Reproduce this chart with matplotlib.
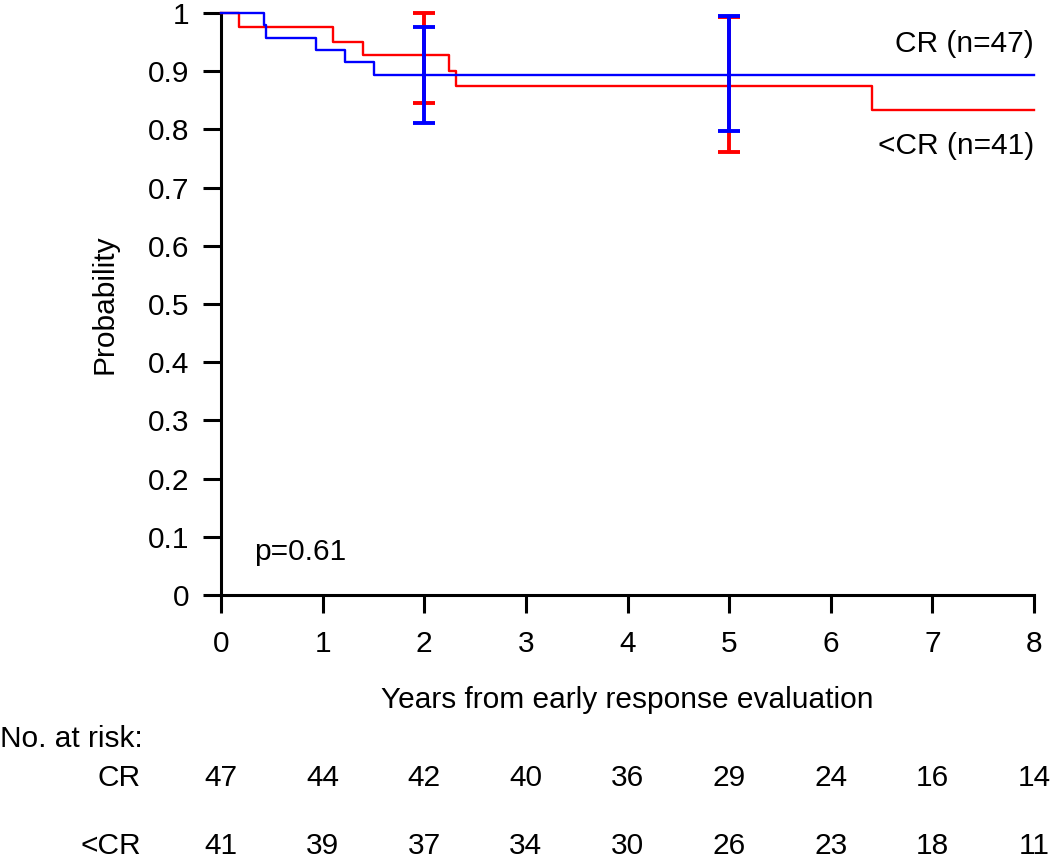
import matplotlib
matplotlib.use("Agg")
import matplotlib.pyplot as plt
from matplotlib.transforms import blended_transform_factory

plt.rcParams['font.family'] = ['Liberation Sans', 'DejaVu Sans']

# Kaplan-Meier step data
cr_times = [0, 0.42, 0.44, 0.935, 1.22, 1.51, 8]
cr_surv = [1, 0.979, 0.957, 0.936, 0.915, 0.894, 0.894]
lcr_times = [0, 0.18, 1.10, 1.40, 2.24, 2.31, 6.41, 8]
lcr_surv = [1, 0.976, 0.951, 0.927, 0.900, 0.875, 0.833, 0.833]

# confidence interval bars
ci_x = [2, 5]
cr_ci_low = [0.811, 0.798]
cr_ci_high = [0.976, 0.994]
lcr_ci_low = [0.846, 0.762]
lcr_ci_high = [1.0, 0.993]

risk_years = [0, 1, 2, 3, 4, 5, 6, 7, 8]
risk_cr = [47, 44, 42, 40, 36, 29, 24, 16, 14]
risk_lcr = [41, 39, 37, 34, 30, 26, 23, 18, 11]

yticks = [0, 0.1, 0.2, 0.3, 0.4, 0.5, 0.6, 0.7, 0.8, 0.9, 1]
ytick_labels = ['0', '0.1', '0.2', '0.3', '0.4', '0.5', '0.6', '0.7', '0.8', '0.9', '1']

W, H = 1050, 859
fig = plt.figure(figsize=(W / 100, H / 100), dpi=100)
ax = fig.add_axes([221 / W, 1 - 595 / H, (1034 - 221) / W, (595 - 13) / H])

fs = 21.5
red = '#ff0000'
blue = '#0000ff'

ax.step(lcr_times, lcr_surv, where='post', color=red, lw=1.7, clip_on=False, zorder=3)
ax.errorbar(ci_x, [(a + b) / 2 for a, b in zip(lcr_ci_low, lcr_ci_high)],
            yerr=[[(b - a) / 2 for a, b in zip(lcr_ci_low, lcr_ci_high)]] * 2,
            fmt='none', ecolor=red, elinewidth=2.8, capsize=7.8, capthick=2.8,
            clip_on=False, zorder=3)
ax.step(cr_times, cr_surv, where='post', color=blue, lw=1.7, clip_on=False, zorder=4)
ax.errorbar(ci_x, [(a + b) / 2 for a, b in zip(cr_ci_low, cr_ci_high)],
            yerr=[[(b - a) / 2 for a, b in zip(cr_ci_low, cr_ci_high)]] * 2,
            fmt='none', ecolor=blue, elinewidth=2.8, capsize=7.8, capthick=2.8,
            clip_on=False, zorder=4)

ax.set_xlim(0, 8)
ax.set_ylim(0, 1)
ax.set_xticks(risk_years)
ax.set_yticks(yticks)
ax.set_yticklabels(ytick_labels)
for s in ['top', 'right']:
    ax.spines[s].set_visible(False)
for s in ['left', 'bottom']:
    ax.spines[s].set_linewidth(2.2)
ax.tick_params(axis='both', direction='out', length=13, width=2.2, labelsize=fs)
ax.tick_params(axis='x', pad=12)
ax.tick_params(axis='y', pad=10)

ax.set_ylabel('Probability', fontsize=fs, labelpad=21)
ax.text(8, 0.946, 'CR (n=47)', ha='right', va='center', fontsize=fs)
ax.text(8, 0.771, '<CR (n=41)', ha='right', va='center', fontsize=fs)
ax.text(0.33, 0.074, 'p=0.61', ha='left', va='center', fontsize=fs)

fig.text(627 / W, 1 - 700 / H, 'Years from early response evaluation', ha='center', va='center', fontsize=fs)
fig.text(0, 1 - 739 / H, 'No. at risk:', ha='left', va='center', fontsize=fs)
fig.text(141 / W, 1 - 778 / H, 'CR', ha='right', va='center', fontsize=fs)
fig.text(141 / W, 1 - 846 / H, '<CR', ha='right', va='center', fontsize=fs)

tr = blended_transform_factory(ax.transData, fig.transFigure)
for x, a, b in zip(risk_years, risk_cr, risk_lcr):
    ax.text(x, 1 - 778 / H, str(a), transform=tr, ha='center', va='center', fontsize=fs, clip_on=False)
    ax.text(x, 1 - 846 / H, str(b), transform=tr, ha='center', va='center', fontsize=fs, clip_on=False)

fig.savefig('out.png', dpi=100)
